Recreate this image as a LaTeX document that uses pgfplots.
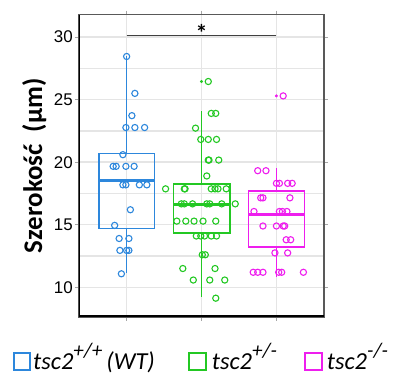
\documentclass[border=0pt]{standalone}
\usepackage{fontspec}
\setmainfont{Carlito}
\newfontfamily\arialfont{Liberation Sans}
\usepackage{pgfplots}
\pgfplotsset{compat=1.18}
\definecolor{cblue}{RGB}{45,135,220}
\definecolor{cgreen}{RGB}{35,200,35}
\definecolor{cmag}{RGB}{238,30,238}
\newcommand{\lgd}[2]{\textit{tsc2}{\fontsize{21}{21}\selectfont\itshape\raisebox{12bp}{#1}}\textit{#2}}
\begin{document}
\begin{tikzpicture}
\begin{axis}[
  scale only axis, width=245bp, height=302bp,
  xmin=0.364, xmax=3.635, ymin=7.65, ymax=31.79,
  xtick={1,2,3}, xticklabels={},
  ytick={10,15,20,25,30},
  minor ytick={12.5,17.5,22.5,27.5},
  grid=both,
  major grid style={draw=black!10, line width=1.5bp},
  minor grid style={draw=black!10, line width=1.5bp},
  tick style={draw=black!35, line width=0.8pt},
  tick align=outside, major tick length=4bp, minor tick length=0bp,
  axis line style={draw=black!65, line width=1.6bp},
  /pgf/number format/assume math mode=true,
  yticklabel style={font=\arialfont\fontsize{17}{17}\selectfont, inner sep=2bp},
  ylabel={\bfseries Szerokość\ \ (µm)},
  ylabel style={font=\fontsize{27}{27}\selectfont, at={(axis description cs:-0.183,0.5)}, anchor=center},
]
% boxes (quartiles), medians, whiskers
\addplot[cblue, line width=1.5bp, line join=miter] coordinates {(0.63,14.71) (1.37,14.71) (1.37,20.69) (0.63,20.69) (0.63,14.71) (1.37,14.71)};
\addplot[cblue, line width=3bp] coordinates {(0.63,18.56) (1.37,18.56)};
\addplot[cblue, line width=1.5bp] coordinates {(1,20.69) (1,28.48)};
\addplot[cblue, line width=1.5bp] coordinates {(1,11.12) (1,14.71)};
\addplot[cgreen, line width=1.5bp, line join=miter] coordinates {(1.6225,14.36) (2.3775,14.36) (2.3775,18.24) (1.6225,18.24) (1.6225,14.36) (2.3775,14.36)};
\addplot[cgreen, line width=3bp] coordinates {(1.6225,16.65) (2.3775,16.65)};
\addplot[cgreen, line width=1.5bp] coordinates {(2,18.24) (2,24.07)};
\addplot[cgreen, line width=1.5bp] coordinates {(2,9.25) (2,14.36)};
\addplot[cmag, line width=1.5bp, line join=miter] coordinates {(2.6285,13.24) (3.3715,13.24) (3.3715,17.71) (2.6285,17.71) (2.6285,13.24) (3.3715,13.24)};
\addplot[cmag, line width=3bp] coordinates {(2.6285,15.8) (3.3715,15.8)};
\addplot[cmag, line width=1.5bp] coordinates {(3,17.71) (3,19.5)};
\addplot[cmag, line width=1.5bp] coordinates {(3,10.85) (3,13.24)};
% outlier dots
\addplot[only marks, mark=*, mark size=1.3bp, cgreen] coordinates {(2.00,26.45)};
\addplot[only marks, mark=*, mark size=1.3bp, cmag] coordinates {(3.00,25.3)};
% points
\addplot[only marks, mark=o, mark size=3.1bp, cblue, line width=1.1bp] coordinates {
(1.00,28.45) (1.11,25.5) (1.07,23.72)
(0.99,22.77) (1.11,22.77) (1.24,22.77)
(0.95,20.6)
(0.82,19.67) (0.86,19.67) (0.99,19.67) (1.10,19.67)
(0.95,18.19) (0.99,18.19) (1.17,18.19) (1.27,18.19)
(1.05,16.2) (0.84,14.95)
(0.90,13.9) (1.03,13.9)
(0.91,12.95) (1.00,12.95) (1.03,12.95)
(0.93,11.08)
};
\addplot[only marks, mark=o, mark size=3.1bp, cgreen, line width=1.1bp] coordinates {
(2.09,26.45)
(2.13,23.9) (2.19,23.9)
(1.92,22.72)
(1.99,21.82) (2.09,21.82) (2.20,21.82)
(2.09,20.17) (2.10,20.17) (2.23,20.17)
(2.07,18.9)
(1.52,17.87) (1.77,17.87) (1.78,17.87) (2.13,17.87) (2.18,17.87) (2.22,17.87) (2.33,17.87)
(1.73,16.67) (1.77,16.67) (1.88,16.67) (2.07,16.67) (2.11,16.67) (2.27,16.67) (2.45,16.67)
(1.67,15.29) (1.79,15.29) (1.90,15.29) (2.02,15.29) (2.19,15.29)
(1.93,14.1) (1.99,14.1) (2.04,14.1) (2.13,14.1) (2.20,14.1)
(2.01,12.6) (2.05,12.6)
(1.75,11.5) (2.18,11.5)
(1.89,10.58) (2.11,10.58) (2.31,10.58)
(2.19,9.13)
};
\addplot[only marks, mark=o, mark size=3.1bp, cmag, line width=1.1bp] coordinates {
(3.09,25.3)
(2.75,19.32) (2.86,19.32)
(3.00,18.31) (3.04,18.31) (3.15,18.31) (3.21,18.31)
(2.79,17.15) (2.82,17.15) (3.18,17.15)
(2.70,16.06) (3.04,16.06) (3.08,16.06) (3.14,16.06)
(2.82,14.9) (3.00,14.9) (3.09,14.9) (3.11,14.9)
(3.13,13.8) (3.19,13.8)
(2.98,12.75) (3.15,12.75)
(2.69,11.2) (2.75,11.2) (2.82,11.2) (3.03,11.2) (3.07,11.2) (3.36,11.2)
};
% significance bar
\draw[black!75, line width=1.8bp] (axis cs:1,30.13) -- (axis cs:3,30.13);
\node[anchor=base, inner sep=0pt, font=\bfseries\fontsize{24}{24}\selectfont] at (axis cs:2,29.66) {*};
% thick left and bottom axis
\draw[black, line width=2.8bp] (rel axis cs:0,1) -- (rel axis cs:0,0) -- (rel axis cs:1,0);
\end{axis}
% legend (axis box lower-left corner is the origin)
\draw[cblue, line width=2bp] (-65.3bp,-52.8bp) rectangle (-49.1bp,-36.3bp);
\draw[cgreen, line width=2bp] (110.3bp,-52.8bp) rectangle (126.7bp,-36.3bp);
\draw[cmag, line width=2bp] (226bp,-52.8bp) rectangle (242.5bp,-36.3bp);
\node[anchor=base west, inner sep=0pt, font=\fontsize{24.5}{24.5}\selectfont] at (-46bp,-52.3bp) {\lgd{+/+}{\,(WT)}};
\node[anchor=base west, inner sep=0pt, font=\fontsize{24.5}{24.5}\selectfont] at (132.7bp,-52.3bp) {\lgd{+/-}{}};
\node[anchor=base west, inner sep=0pt, font=\fontsize{24.5}{24.5}\selectfont] at (247.7bp,-52.3bp) {\lgd{-/-}{}};
\pgfresetboundingbox
\useasboundingbox (-79bp,-57.3bp) rectangle (314bp,316.7bp);
\end{tikzpicture}
\end{document}
